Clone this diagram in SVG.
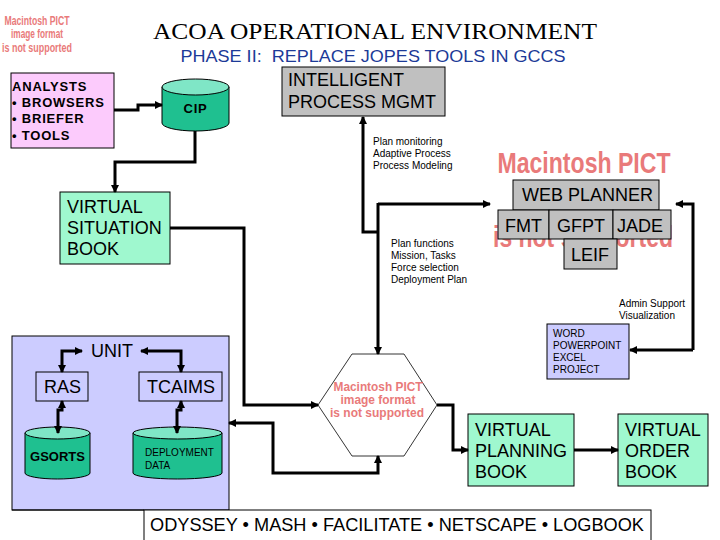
<svg xmlns="http://www.w3.org/2000/svg" width="720" height="540" viewBox="0 0 720 540">
<style>
text{font-family:"Liberation Sans",Arial,sans-serif;fill:#000}
.title{font-family:"Liberation Serif","Times New Roman",serif;font-size:24px}
.sub{font-size:17px;fill:#1c3a98}
.big{font-size:18px}
.bold13{font-size:13px;font-weight:bold;letter-spacing:0.8px}
.small{font-size:10px}
.pict{fill:#e97a7a;font-weight:bold}
.box{stroke:#000;stroke-width:1}
.mint{fill:#9ff8cf}
.lav{fill:#ccccff}
.gray{fill:#c0c0c0}
.pink{fill:#fccbfc}
.cyl{fill:#1fc090;stroke:#000;stroke-width:1}
.cyltop{fill:#7fe6c6;stroke:#000;stroke-width:1}
.hex{fill:#fff;stroke:#000;stroke-width:0.8}
#connectors path{fill:none;stroke:#000;stroke-width:3}
</style>
<defs>
<marker id="ar" viewBox="0 0 8 8" refX="7" refY="4" markerWidth="8" markerHeight="8" markerUnits="userSpaceOnUse" orient="auto-start-reverse">
<path d="M0,0 L8,4 L0,8 z" fill="#000"/>
</marker>
</defs>
<rect width="720" height="540" fill="#fff"/>

<g id="pict-topleft">
<text class="pict" x="37" y="25" font-size="12" text-anchor="middle" textLength="65" lengthAdjust="spacingAndGlyphs">Macintosh PICT</text>
<text class="pict" x="37" y="38" font-size="12" text-anchor="middle" textLength="52" lengthAdjust="spacingAndGlyphs">image format</text>
<text class="pict" x="37" y="52" font-size="12" text-anchor="middle" textLength="70" lengthAdjust="spacingAndGlyphs">is not supported</text>
</g>

<g id="title">
<text class="title" x="375" y="39" text-anchor="middle" textLength="444" lengthAdjust="spacingAndGlyphs">ACOA OPERATIONAL ENVIRONMENT</text>
<text class="sub" x="373" y="62" text-anchor="middle" xml:space="preserve" textLength="385" lengthAdjust="spacingAndGlyphs">PHASE II:  REPLACE JOPES TOOLS IN GCCS</text>
</g>

<g id="analysts">
<rect class="box pink" x="11" y="73" width="103" height="75"/>
<text class="bold13" x="12" y="91">ANALYSTS</text>
<text class="bold13" x="12" y="107">•  BROWSERS</text>
<text class="bold13" x="12" y="123">•  BRIEFER</text>
<text class="bold13" x="12" y="140">•  TOOLS</text>
</g>

<g id="cip">
<path class="cyl" d="M162 87 V123 A33.5 8 0 0 0 229 123 V87 Z"/>
<ellipse class="cyltop" cx="195.5" cy="87" rx="33.5" ry="8"/>
<text class="bold13" x="195.5" y="113" text-anchor="middle">CIP</text>
</g>

<g id="ipm">
<rect class="box gray" x="282" y="67" width="163" height="49"/>
<text class="big" x="288" y="86">INTELLIGENT</text>
<text class="big" x="288" y="108">PROCESS MGMT</text>
</g>

<g id="label-monitoring">
<text class="small" x="373" y="145">Plan monitoring</text>
<text class="small" x="373" y="157">Adaptive Process</text>
<text class="small" x="373" y="169">Process Modeling</text>
</g>

<g id="label-functions">
<text class="small" x="391" y="247">Plan functions</text>
<text class="small" x="391" y="259">Mission, Tasks</text>
<text class="small" x="391" y="271">Force selection</text>
<text class="small" x="391" y="283">Deployment Plan</text>
</g>

<g id="pict-webplanner">
<text class="pict" x="584" y="173" font-size="29" text-anchor="middle" textLength="173" lengthAdjust="spacingAndGlyphs">Macintosh PICT</text>
<text class="pict" x="583" y="247" font-size="29" text-anchor="middle" textLength="180" lengthAdjust="spacingAndGlyphs">is not supported</text>
</g>

<g id="webplanner">
<rect class="box gray" x="513" y="180" width="146" height="30"/>
<text class="big" x="522" y="201">WEB PLANNER</text>
</g>
<g id="fmt">
<rect class="box gray" x="498" y="210" width="51" height="29"/>
<text class="big" x="505" y="232">FMT</text>
</g>
<g id="gfpt">
<rect class="box gray" x="549" y="210" width="64" height="29"/>
<text class="big" x="557" y="232">GFPT</text>
</g>
<g id="jade">
<rect class="box gray" x="613" y="210" width="58" height="29"/>
<text class="big" x="617" y="232">JADE</text>
</g>
<g id="leif">
<rect class="box gray" x="564" y="239" width="53" height="30"/>
<text class="big" x="571" y="261">LEIF</text>
</g>

<g id="vsb">
<rect class="box mint" x="60" y="192" width="110" height="72"/>
<text class="big" x="67" y="213">VIRTUAL</text>
<text class="big" x="67" y="234">SITUATION</text>
<text class="big" x="67" y="255">BOOK</text>
</g>

<g id="label-admin">
<text class="small" x="619" y="307">Admin Support</text>
<text class="small" x="619" y="319">Visualization</text>
</g>

<g id="office">
<rect class="box lav" x="547" y="324" width="82" height="55"/>
<text class="small" x="553" y="337">WORD</text>
<text class="small" x="553" y="349">POWERPOINT</text>
<text class="small" x="553" y="361">EXCEL</text>
<text class="small" x="553" y="373">PROJECT</text>
</g>

<g id="unit">
<rect class="box lav" x="12" y="336" width="217" height="174"/>
<text class="big" x="91" y="357">UNIT</text>
</g>
<g id="ras">
<rect class="box lav" x="36" y="372" width="52" height="29"/>
<text class="big" x="44" y="393">RAS</text>
</g>
<g id="tcaims">
<rect class="box lav" x="139" y="372" width="83" height="29"/>
<text class="big" x="147" y="393">TCAIMS</text>
</g>
<g id="gsorts">
<path class="cyl" d="M25 433 V473 A32.5 6 0 0 0 90 473 V433 Z"/>
<ellipse class="cyltop" cx="57.5" cy="433" rx="32.5" ry="6"/>
<text class="bold13" x="57.5" y="461" text-anchor="middle" style="letter-spacing:0">GSORTS</text>
</g>
<g id="deployment">
<path class="cyl" d="M133 433 V473 A44.5 6 0 0 0 222 473 V433 Z"/>
<ellipse class="cyltop" cx="177.5" cy="433" rx="44.5" ry="6"/>
<text class="small" x="145" y="456">DEPLOYMENT</text>
<text class="small" x="145" y="469">DATA</text>
</g>

<g id="hexagon">
<polygon class="hex" points="318,405 352,354 404,354 437,405 404,456 352,456"/>
<text class="pict" x="378" y="391" font-size="12.5" text-anchor="middle" textLength="89" lengthAdjust="spacingAndGlyphs">Macintosh PICT</text>
<text class="pict" x="378" y="404" font-size="12.5" text-anchor="middle" textLength="75" lengthAdjust="spacingAndGlyphs">image format</text>
<text class="pict" x="377" y="417" font-size="12.5" text-anchor="middle" textLength="94" lengthAdjust="spacingAndGlyphs">is not supported</text>
</g>

<g id="vpb">
<rect class="box mint" x="468" y="414" width="106" height="72"/>
<text class="big" x="475" y="436">VIRTUAL</text>
<text class="big" x="475" y="457">PLANNING</text>
<text class="big" x="475" y="478">BOOK</text>
</g>
<g id="vob">
<rect class="box mint" x="618" y="414" width="90" height="72"/>
<text class="big" x="625" y="436">VIRTUAL</text>
<text class="big" x="625" y="457">ORDER</text>
<text class="big" x="625" y="478">BOOK</text>
</g>

<g id="tools-bar">
<rect x="144" y="510" width="507" height="40" fill="#fff" stroke="#000" stroke-width="1"/>
<line x1="12" y1="510" x2="144" y2="510" stroke="#000" stroke-width="1"/>
<text class="big" x="150" y="531" textLength="494" lengthAdjust="spacingAndGlyphs">ODYSSEY • MASH • FACILITATE • NETSCAPE • LOGBOOK</text>
</g>

<g id="connectors">
<path d="M114 110 H138 V105 H162" marker-end="url(#ar)"/>
<path d="M195 131 V162 H115 V192" marker-end="url(#ar)"/>
<path d="M170 228 H244 V405 H318" marker-end="url(#ar)"/>
<path d="M378 232 H363 V117" marker-end="url(#ar)"/>
<path d="M378 203 V354" marker-end="url(#ar)"/>
<path d="M378 204 H490" marker-end="url(#ar)"/>
<path d="M693 350 V204 H676" marker-end="url(#ar)"/>
<path d="M693 350 H630" marker-end="url(#ar)"/>
<path d="M437 405 H453 V450 H468" marker-end="url(#ar)"/>
<path d="M574 450 H618" marker-end="url(#ar)"/>
<path d="M378 456 V473 H273 V423 H229" marker-start="url(#ar)" marker-end="url(#ar)"/>
<path d="M62 372 V351 H82" marker-start="url(#ar)" marker-end="url(#ar)"/>
<path d="M141 351 H181 V372" marker-start="url(#ar)" marker-end="url(#ar)"/>
<path d="M62 401 V410 H58 V433" marker-start="url(#ar)" marker-end="url(#ar)"/>
<path d="M181 401 V410 H177 V433" marker-start="url(#ar)" marker-end="url(#ar)"/>
</g>
</svg>
